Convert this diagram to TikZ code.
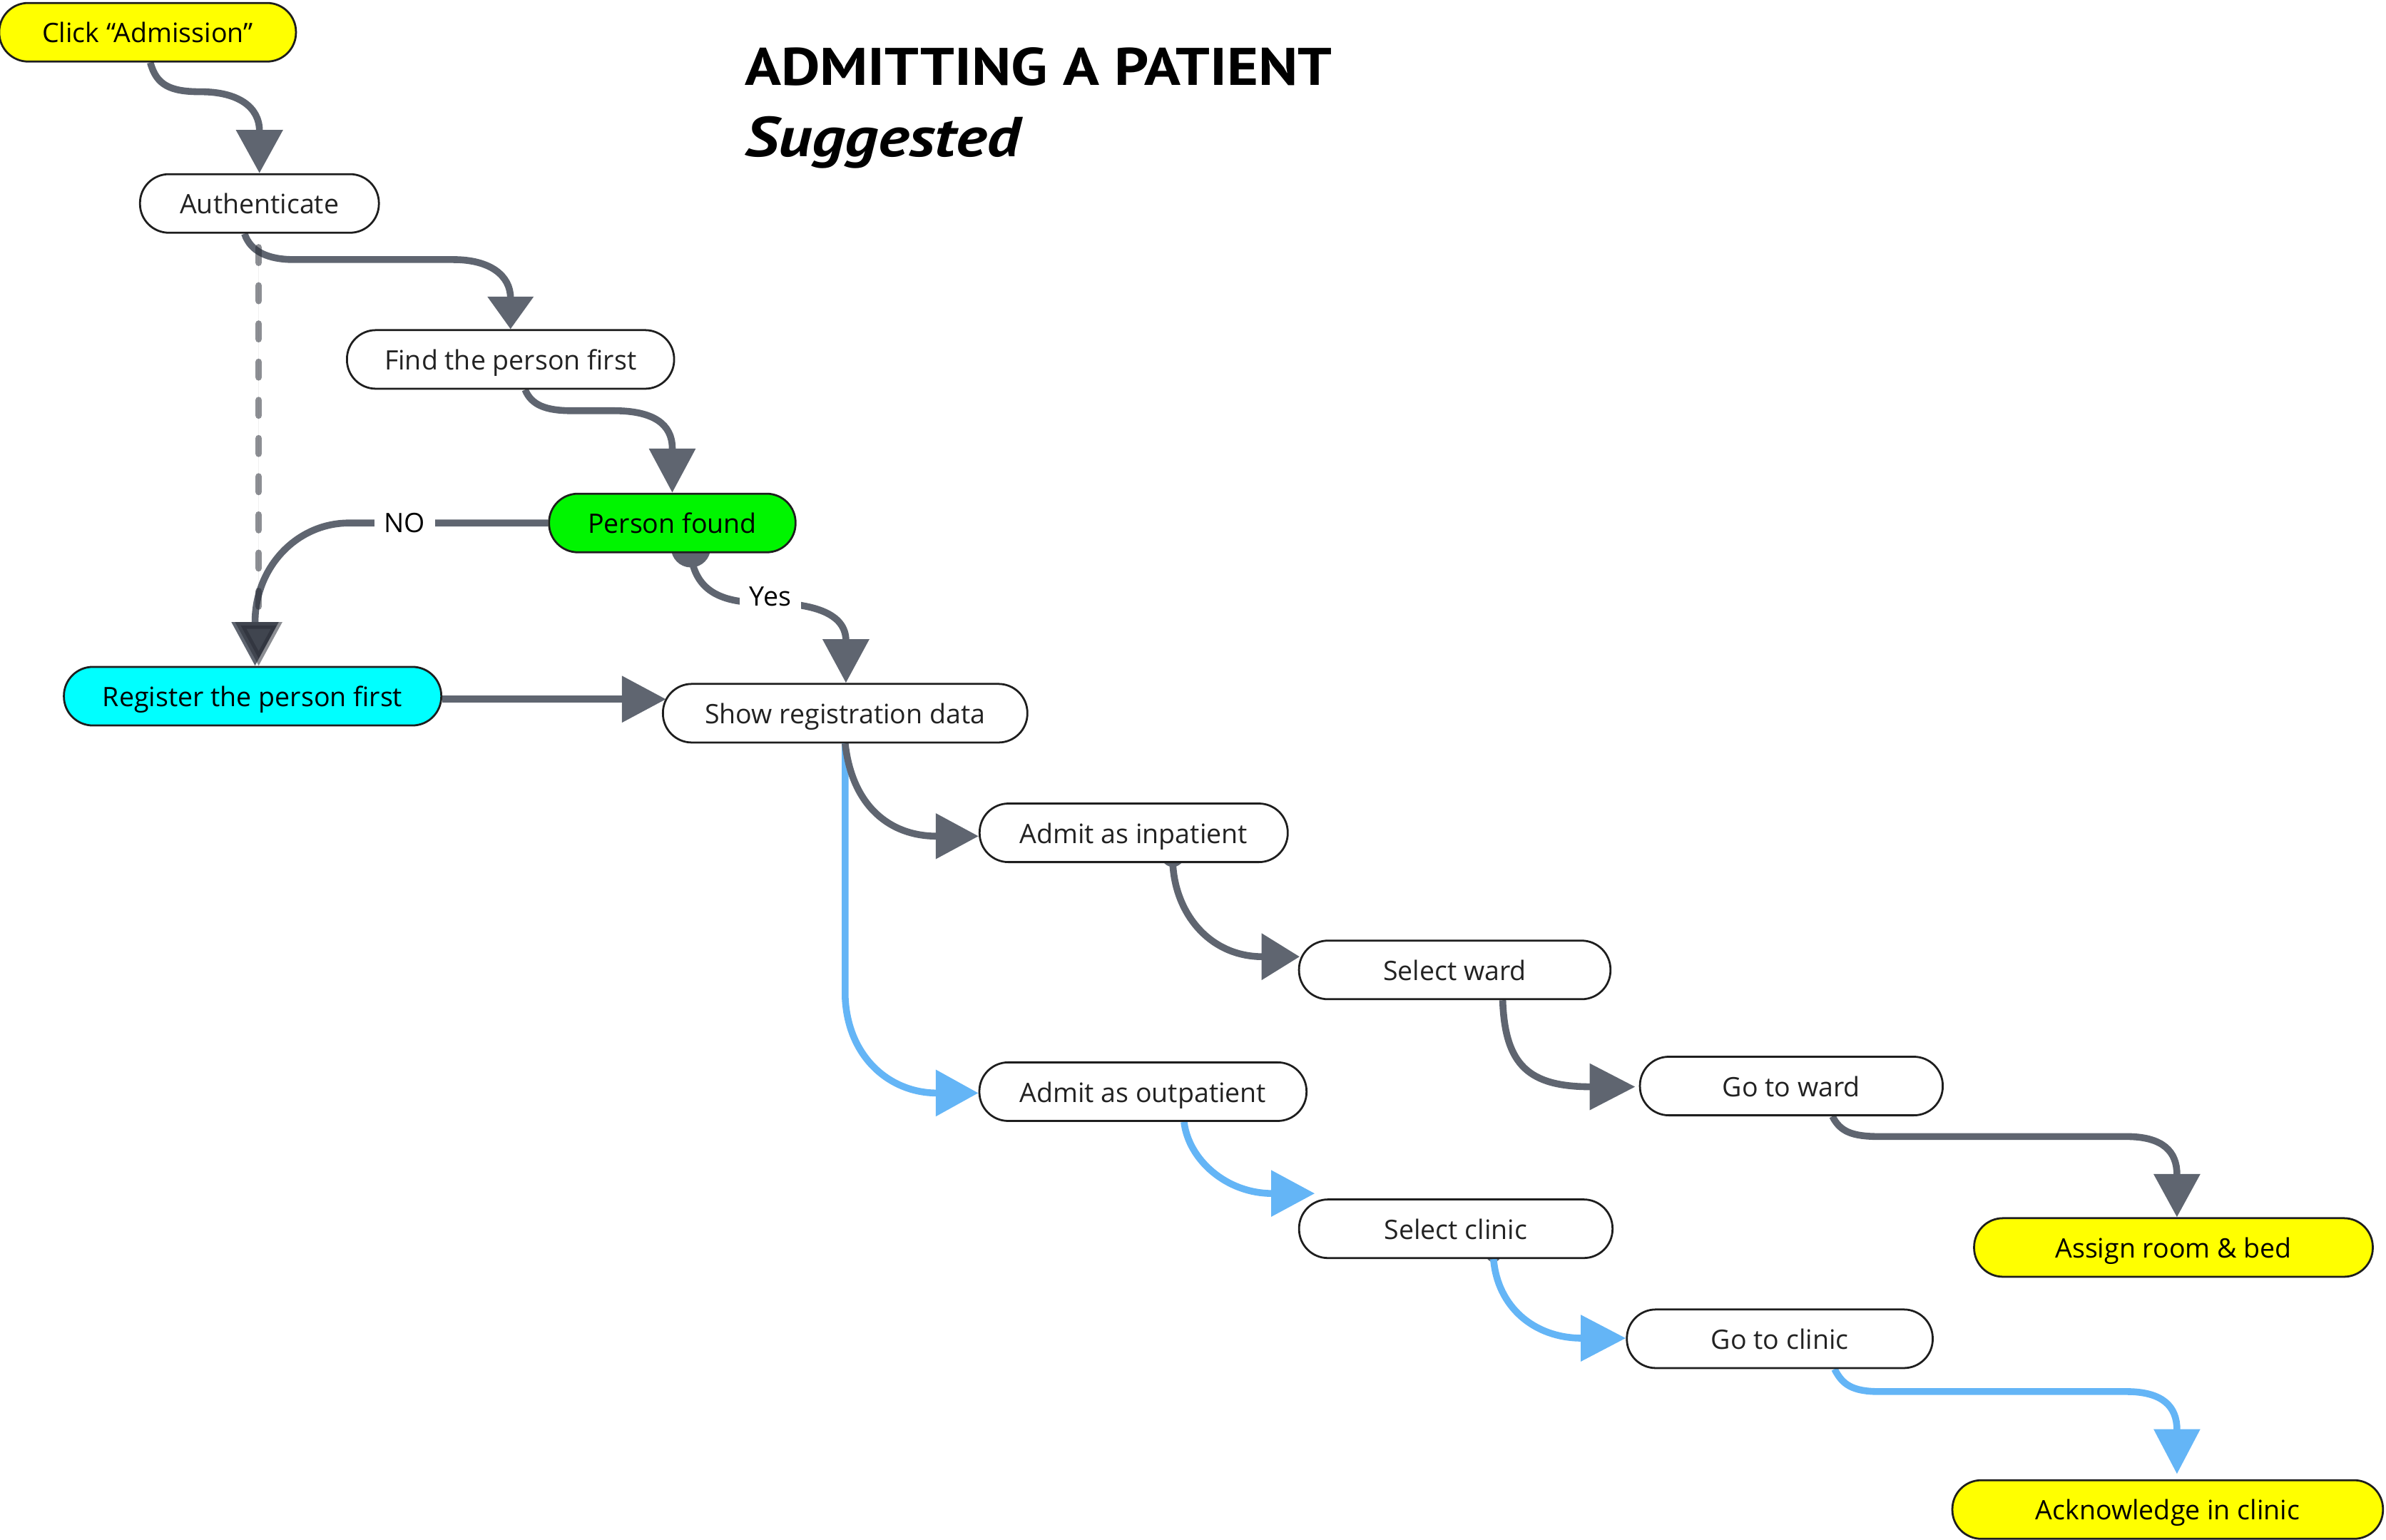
\documentclass[tikz,border=0pt]{standalone}
\usepackage{fontspec}
\setmainfont{Open Sans}
\newfontfamily\titlefont{PT Sans}
\usepackage{graphicx}
\usetikzlibrary{arrows.meta,calc}
\pgfdeclarelayer{bg}
\pgfsetlayers{bg,main}
\definecolor{cgray}{HTML}{5F6570}
\definecolor{cblue}{HTML}{64B5F6}
\definecolor{cdash}{HTML}{262933}
\definecolor{cyel}{HTML}{FFFF00}
\definecolor{cgreen}{HTML}{00F500}
\definecolor{ccyan}{HTML}{00FFFF}
\definecolor{cborder}{HTML}{1E1E1E}
\definecolor{ctext}{HTML}{222222}
\begin{document}
\begin{tikzpicture}[x=1pt,y=-1pt,
  box/.style={draw=cborder, line width=1.3pt, rounded corners=19pt, minimum height=38.5pt,
    inner sep=0pt, fill=white, text=ctext, text height=17pt, text depth=3.2pt,
    font=\fontsize{17.6}{20}\selectfont},
  conn/.style={line width=4.5pt, draw=cgray, line join=round},
  bconn/.style={line width=4.5pt, draw=cblue, line join=round},
  arrowhd/.style 2 args={-{Triangle[length=#1pt,width=#2pt]}},
  lbl/.style={fill=white, inner sep=0pt, minimum width=40pt, minimum height=20pt,
    text=black, font=\fontsize{17.6}{20}\selectfont},
  blob/.style={fill=cgray}
]
\useasboundingbox (0,0) rectangle (1568,1012);

% title
\node[anchor=base west, inner sep=0pt] (title) at (489.2,56.2)
  {\resizebox{386pt}{24.8pt}{\titlefont\bfseries ADMITTING A PATIENT}};
\node[anchor=base west, inner sep=0pt] (subtitle) at (489.2,102.7)
  {\resizebox{181pt}{26.4pt}{\titlefont\bfseries\itshape Suggested}};

% nodes
\node[box, fill=cyel, text=black, minimum width=195pt] (click) at (97,21.2) {Click “Admission”};
\node[box, minimum width=157pt] (auth) at (170.5,133.7) {Authenticate};
\node[box, minimum width=215pt] (find) at (335.5,236.2) {Find the person first};
\node[box, fill=cgreen, text=black, minimum width=162pt] (pfound) at (441.8,343.7) {Person found};
\node[box, fill=ccyan, text=black, minimum width=248pt] (register) at (166,457.5) {Register the person first};
\node[box, minimum width=239.5pt] (showreg) at (555.4,468.7) {Show registration data};
\node[box, minimum width=202.5pt] (inpatient) at (745,547.3) {Admit as inpatient};
\node[box, minimum width=204.7pt] (selward) at (956,637.4) {Select ward};
\node[box, minimum width=215pt] (outpatient) at (751.1,717.4) {Admit as outpatient};
\node[box, minimum width=199pt] (gotoward) at (1177.2,713.7) {Go to ward};
\node[box, fill=cyel, text=black, minimum width=262pt] (assign) at (1428.3,819.8) {Assign room \& bed};
\node[box, minimum width=206pt] (selclinic) at (956.7,807.5) {Select clinic};
\node[box, minimum width=201pt] (gotoclinic) at (1169.6,879.8) {Go to clinic};
\node[box, fill=cyel, text=black, minimum width=283pt] (ack) at (1424.5,992) {Acknowledge in clinic};

\begin{pgfonlayer}{bg}
% Click -> Authenticate
\draw[conn, arrowhd={28.4}{29.8}] ([xshift=1.8pt]click.south)
  .. controls +(4,15) and +(-20,0) .. (132,60.3)
  .. controls +(24,0) and +(0,-16) .. (170.5,86) -- (auth.north);
% Authenticate -> Find
\draw[conn, arrowhd={21.4}{29.3}] ([xshift=-9.8pt]auth.south)
  .. controls +(4,12) and +(-17,0) .. (193.5,170.6) -- (298,170.6)
  .. controls +(24,0) and +(0,-15) .. (335.5,196) -- (find.north);
% Find -> Person found
\draw[conn, arrowhd={29}{29.6}] ([xshift=9.6pt]find.south)
  .. controls +(4,10) and +(-17,0) .. (375.6,269.9) -- (403.4,269.9)
  .. controls +(26,0) and +(0,-16) .. (441.8,294.7) -- (pfound.north);
% Person found -> Register (NO)
\draw[conn, arrowhd={28.8}{29.9}] (pfound.west)
  -- node[lbl, pos=0.72] (no) {NO} (229.3,343.7)
  .. controls +(-34.1,0) and +(0,-36.3) .. (167.6,408.9)
  -- ([xshift=1.6pt]register.north);
% Authenticate -> Register (dashed)
\draw[line width=4.5pt, draw=cdash, fill=cdash, opacity=0.53, line cap=round,
  dash pattern=on 10pt off 15.1pt, arrowhd={28.8}{29.9}]
  ([xshift=-0.5pt,yshift=-9pt]auth.south) -- ([xshift=4pt]register.north);
% Person found -> Show registration (Yes)
\fill[blob] ([xshift=12.2pt,yshift=3.7pt]pfound.south) circle (13pt);
\draw[conn, arrowhd={28.7}{29.6}] ([xshift=12.2pt,yshift=-1pt]pfound.south)
  .. controls (457,387) and (472,396) .. (500,396)
  .. controls (537,396) and (555,404) .. (555.9,420) -- ([xshift=0.5pt]showreg.north);
\node[lbl] (yes) at (506.2,392.2) {Yes};
% Register -> Show registration
\draw[conn, arrowhd={29}{29.6}] ([yshift=-2pt]register.east) -- ([xshift=2.7pt,yshift=9.2pt]showreg.west);
% Show registration -> Admit as outpatient (blue)
\draw[bconn, arrowhd={28}{29.6}] (showreg.south) -- (555.4,655)
  .. controls (557,695) and (585,718.3) .. (615.7,718.3) -- ([yshift=-0.9pt]outpatient.west);
% Show registration -> Admit as inpatient
\draw[conn, arrowhd={28.2}{29}] (showreg.south)
  .. controls (560,530) and (585,549.5) .. (615.5,549.5) -- ([yshift=-2.2pt]inpatient.west);
% Admit as inpatient -> Select ward
\fill[blob] ([xshift=25.7pt,yshift=5pt]inpatient.south) circle (7.5pt);
\draw[conn, arrowhd={25}{29.6}] ([xshift=25.7pt]inpatient.south)
  .. controls +(1.5,33) and +(-35,0) .. (829.8,628.7) -- ([xshift=1.1pt,yshift=8.7pt]selward.west);
% Select ward -> Go to ward
\draw[conn, arrowhd={30}{29.6}] ([xshift=31.5pt]selward.south)
  .. controls +(1.5,43) and +(-41,0) .. (1045.8,714.2) -- ([xshift=-2.4pt,yshift=-0.5pt]gotoward.west);
% Go to ward -> Assign room & bed
\draw[conn, arrowhd={28.4}{29.6}] ([xshift=27pt]gotoward.south)
  .. controls +(5,10) and +(-18,0) .. (1235,746.9) -- (1397.4,746.9)
  .. controls +(24,0) and +(0,-15) .. (1430.6,771.8) -- ([xshift=2.3pt]assign.north);
% Admit as outpatient -> Select clinic (blue)
\draw[bconn, arrowhd={28.7}{29.5}] ([xshift=27pt]outpatient.south)
  .. controls +(3,25) and +(-30,0) .. (836,784.3) -- ([xshift=11pt,yshift=23.2pt]selclinic.west);
% Select clinic -> Go to clinic (blue)
\fill[blob] ([xshift=24.8pt,yshift=3pt]selclinic.south) circle (5pt);
\draw[bconn, arrowhd={29.6}{29.5}] ([xshift=24.8pt]selclinic.south)
  .. controls +(2.5,31) and +(-32,0) .. (1039.7,879.4) -- ([yshift=0.4pt]gotoclinic.west);
% Go to clinic -> Acknowledge in clinic (blue)
\draw[bconn, arrowhd={29.5}{29.5}] ([xshift=36pt]gotoclinic.south)
  .. controls +(5,10) and +(-18,0) .. (1235,914.5) -- (1397.4,914.5)
  .. controls +(24,0) and +(0,-15) .. (1430.6,939.5) -- ([xshift=6.1pt,yshift=3.4pt]ack.north);
\end{pgfonlayer}
\end{tikzpicture}
\end{document}
